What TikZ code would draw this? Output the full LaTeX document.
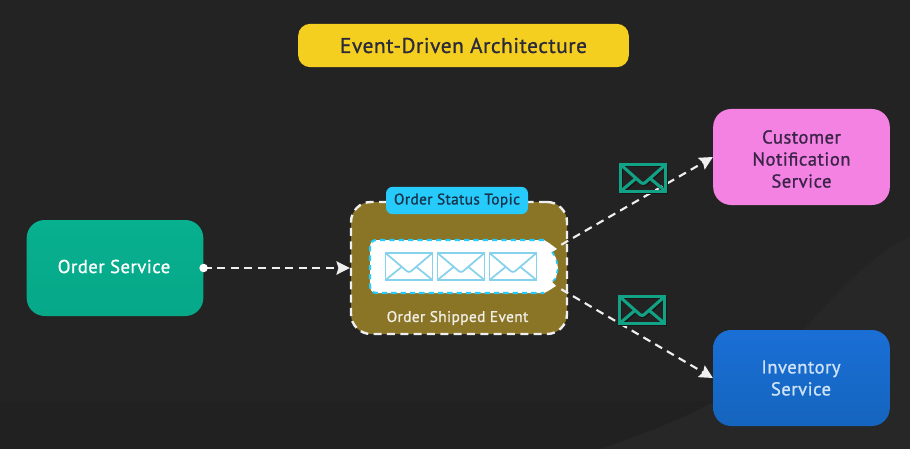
\documentclass[tikz,border=0pt]{standalone}
\usepackage{fontspec}
\setmainfont{PT Sans}
\newfontfamily\dinf[LetterSpace=2.6,FakeBold=1]{PT Sans}
\usetikzlibrary{arrows.meta,calc}
\definecolor{bgc}{HTML}{232323}
\definecolor{bgdark}{HTML}{212121}
\definecolor{bglight}{HTML}{272727}
\definecolor{shadowc}{HTML}{181818}
\definecolor{titlec}{HTML}{F5CF1F}
\definecolor{titletx}{HTML}{2A2A3A}
\definecolor{teal}{HTML}{07B08F}
\definecolor{tealdk}{HTML}{06A888}
\definecolor{pinkc}{HTML}{F482E3}
\definecolor{bluetop}{HTML}{1A6FD6}
\definecolor{bluebot}{HTML}{1565BE}
\definecolor{olive}{HTML}{8A7426}
\definecolor{cyanc}{HTML}{26CBFB}
\definecolor{navy}{HTML}{17324A}
\definecolor{envlight}{HTML}{86D2EC}
\definecolor{envteal}{HTML}{12A386}
\definecolor{dashw}{HTML}{EFEFEF}
\definecolor{pinktx}{HTML}{3A2448}
\definecolor{bluetx}{HTML}{CFE3F7}
\tikzset{
  box/.style={rounded corners=13.5pt,inner sep=0pt,minimum width=132.5pt,minimum height=72pt},
  boxtx/.style={inner sep=0pt,align=center,font=\dinf\fontsize{14}{16.5}\selectfont},
  flow/.style={draw=dashw,line width=1.6pt,dash pattern=on 6pt off 4.2pt,-{Stealth[length=10pt,width=10pt,inset=1.5pt]}},
  envl/.pic={
    \draw[line join=miter] (0,0) rectangle (47,27);
    \draw (0,0) -- (20,17) .. controls (22,19.5) and (25,19.5) .. (27,17) -- (47,0);
    \draw (0,27) -- (16,14) (47,27) -- (31,14);
  }
}
\begin{document}
\begin{tikzpicture}[x=.75pt,y=-.75pt]
\useasboundingbox (0,0) rectangle (910,449);
\fill[bgc] (0,0) rectangle (910,449);
\fill[bgdark] (0,401) rectangle (910,449);
\fill[bglight] (600,449) .. controls (680,422) and (740,395) .. (790,345) .. controls (830,300) and (870,255) .. (910,237) -- (910,449) -- cycle;

\node[fill=titlec,text=titletx,rounded corners=9pt,inner sep=0pt,minimum width=248pt,minimum height=32.5pt,font=\dinf\fontsize{16}{18}\selectfont] (title) at (463.5,45.5) {Event-Driven Architecture};

\node[box,bottom color=tealdk,top color=teal] (order) at (115,268) {};
\node[boxtx,text=white] (ordertx) at (114,266.5) {Order Service};
\node[box,fill=pinkc] (customer) at (801.5,157) {};
\node[boxtx,text=pinktx] (customertx) at (801.5,159) {Customer\\Notification\\Service};
\node[box,top color=bluetop,bottom color=bluebot] (inventory) at (801.5,378) {};
\node[boxtx,text=bluetx] (inventorytx) at (801,378) {Inventory\\Service};

\node[fill=olive,draw=dashw,line width=1.8pt,dash pattern=on 6pt off 4pt,rounded corners=15pt,inner sep=0pt,minimum width=162pt,minimum height=99pt] (topic) at (459,268) {};
\node[fill=cyanc,text=navy,rounded corners=5pt,inner sep=0pt,minimum width=106.5pt,minimum height=20.5pt,font=\dinf\fontsize{11.5}{14}\selectfont] (toplabel) at (457,200.5) {Order Status Topic};
\node[text=white!88!olive,inner sep=0pt,font=\dinf\fontsize{11.5}{14}\selectfont] (shipped) at (457.5,318) {Order Shipped Event};

\node[inner sep=0pt,minimum width=141pt,minimum height=39.75pt] (queue) at (464,266.5) {};
\fill[white] (378,240) -- (544,240) -- (549,243) -- (557,249) -- (552,252) -- (556,258) -- (558,268) -- (556,278) -- (552,282) -- (556,286) -- (548,291) -- (544,293) -- (378,293) .. controls (372,293) and (370,291) .. (370,285) -- (370,248) .. controls (370,242) and (372,240) .. (378,240) -- cycle;
\draw[cyanc,line width=1.6pt,dash pattern=on 4pt off 3pt] (544,240) -- (378,240) .. controls (372,240) and (370,242) .. (370,248) -- (370,285) .. controls (370,291) and (372,293) .. (378,293) -- (544,293);
\draw[cyanc,line width=1.3pt,dash pattern=on 3pt off 4pt] (552,252) -- (556,258) -- (558,268) -- (556,278) -- (552,282);
\foreach \ex/\nm in {385.5/a,437.5/b,489.5/c}
  \pic[envlight,line width=1.3pt] (q\nm) at (\ex,253) {envl};

\coordinate (qa) at ($(queue.north east)+(3,5)$);
\coordinate (qb) at ($(queue.south east)+(3,-4)$);
\draw[flow] (order.east) -- (topic.west);
\fill[white] (order.east) circle (3.2pt);
\draw[flow] (qa) -- (customer.west);
\draw[flow] (qb) -- (inventory.west);

\pic[shadowc,line width=2.2pt,xscale=.96] (s1) at (621.5,166) {envl};
\pic[shadowc,line width=2.2pt,xscale=.96] (s2) at (620.5,298) {envl};
\pic[envteal,line width=2.3pt,xscale=.96] (m1) at (620.5,164.5) {envl};
\pic[envteal,line width=2.3pt,xscale=.96] (m2) at (619.5,296.5) {envl};
\end{tikzpicture}
\end{document}
